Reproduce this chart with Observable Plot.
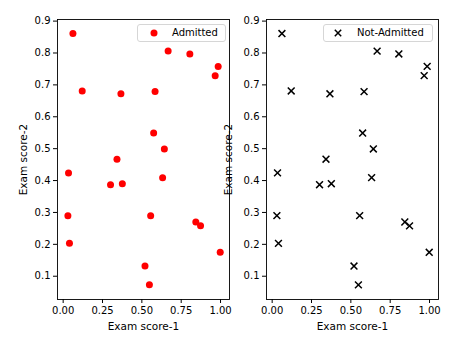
<!DOCTYPE html>
<html>
<head>
<meta charset="utf-8">
<script src="https://cdn.jsdelivr.net/npm/d3@7"></script>
<script src="https://cdn.jsdelivr.net/npm/@observablehq/plot@0.6"></script>
<style>
  html, body { margin: 0; padding: 0; background: white; }
  #fig { position: relative; width: 474px; height: 338px; overflow: hidden; font-family: "DejaVu Sans", sans-serif; }
  #fig > svg, #fig > .plotwrap { position: absolute; top: 0; }
  .legend { position: absolute; box-sizing: border-box; border: 1px solid #d6d6d6; border-radius: 3px; background: rgba(255,255,255,0.8); font-size: 10px; color: black; }
  .legend svg { position: absolute; }
  .legend span { position: absolute; white-space: nowrap; line-height: 12px; }
</style>
</head>
<body>
<div id="fig"></div>
<script>
// Data
const admittedScore1 = [0.062, 0.121, 0.367, 0.584, 0.667, 0.805, 0.985, 0.966, 0.575, 0.643, 0.342, 0.034, 0.301, 0.376, 0.632, 0.030, 0.556, 0.843, 0.873, 0.040, 0.998, 0.520, 0.548];
const admittedScore2 = [0.861, 0.681, 0.672, 0.679, 0.806, 0.797, 0.758, 0.729, 0.549, 0.499, 0.467, 0.424, 0.387, 0.390, 0.409, 0.290, 0.290, 0.270, 0.258, 0.203, 0.175, 0.132, 0.073];
const notAdmittedScore1 = [0.062, 0.121, 0.367, 0.584, 0.667, 0.805, 0.985, 0.966, 0.575, 0.643, 0.342, 0.034, 0.301, 0.376, 0.632, 0.030, 0.556, 0.843, 0.873, 0.040, 0.998, 0.520, 0.548];
const notAdmittedScore2 = [0.861, 0.681, 0.672, 0.679, 0.806, 0.797, 0.758, 0.729, 0.549, 0.499, 0.467, 0.424, 0.387, 0.390, 0.409, 0.290, 0.290, 0.270, 0.258, 0.203, 0.175, 0.132, 0.073];
const xTicks = [0, 0.25, 0.5, 0.75, 1.0];
const yTicks = [0.1, 0.2, 0.3, 0.4, 0.5, 0.6, 0.7, 0.8, 0.9];
const xLabel = "Exam score-1";
const yLabel = "Exam score-2";
const seriesNames = ["Admitted", "Not-Admitted"];

const admitted = admittedScore1.map((x, i) => ({x, y: admittedScore2[i]}));
const notAdmitted = notAdmittedScore1.map((x, i) => ({x, y: notAdmittedScore2[i]}));

function panel({data, dotOptions, width, marginLeft, marginRight, yLabelDx}) {
  return Plot.plot({
    width, height: 338,
    marginTop: 19, marginBottom: 39, marginLeft, marginRight,
    style: {fontFamily: "DejaVu Sans", fontSize: "10px", color: "black", background: "transparent", overflow: "visible"},
    x: {domain: [-0.036, 1.057]},
    y: {domain: [0.027, 0.905]},
    marks: [
      Plot.axisX({ticks: xTicks, tickFormat: d3.format(".2f"), tickSize: 4, tickPadding: 3, label: null, fontSize: 10}),
      Plot.axisY({ticks: yTicks, tickFormat: d3.format(".1f"), tickSize: 4, tickPadding: 3, label: null, fontSize: 10}),
      Plot.frame({stroke: "black", strokeWidth: 0.9}),
      Plot.dot(data, {x: "x", y: "y", ...dotOptions}),
      Plot.text([xLabel], {text: d => d, frameAnchor: "bottom", dy: 27, lineAnchor: "middle", textAnchor: "middle", fontSize: 10.5, fill: "black"}),
      Plot.text([yLabel], {text: d => d, frameAnchor: "left", dx: yLabelDx, rotate: -90, lineAnchor: "middle", textAnchor: "middle", fontSize: 10.5, fill: "black"})
    ]
  });
}

const fig = document.getElementById("fig");

const p1 = panel({
  data: admitted,
  dotOptions: {r: 3.5, fill: "red", stroke: "none"},
  width: 237, marginLeft: 57, marginRight: 8, yLabelDx: -34
});
p1.style.left = "0px";
fig.appendChild(p1);

const p2 = panel({
  data: notAdmitted,
  dotOptions: {r: 3.2, symbol: "times", stroke: "black", strokeWidth: 1.5},
  width: 274, marginLeft: 66, marginRight: 36, yLabelDx: -37.5
});
p2.style.left = "200px";
fig.appendChild(p2);

function legend({left, top, width, height, name, marker, markerX, textX}) {
  const box = document.createElement("div");
  box.className = "legend";
  Object.assign(box.style, {left: left + "px", top: top + "px", width: width + "px", height: height + "px"});
  const ns = "http://www.w3.org/2000/svg";
  const svg = document.createElementNS(ns, "svg");
  svg.setAttribute("width", 12); svg.setAttribute("height", 12);
  svg.style.left = (markerX - left - 6) + "px";
  svg.style.top = (height / 2 - 7) + "px";
  if (marker === "circle") {
    const c = document.createElementNS(ns, "circle");
    c.setAttribute("cx", 6); c.setAttribute("cy", 6); c.setAttribute("r", 3.5); c.setAttribute("fill", "red");
    svg.appendChild(c);
  } else {
    const p = document.createElementNS(ns, "path");
    p.setAttribute("d", "M2.8,2.8L9.2,9.2M9.2,2.8L2.8,9.2"); p.setAttribute("stroke", "black"); p.setAttribute("stroke-width", 1.5);
    svg.appendChild(p);
  }
  box.appendChild(svg);
  const s = document.createElement("span");
  s.textContent = name;
  s.style.left = (textX - left - 1) + "px";
  s.style.top = (height / 2 - 7) + "px";
  box.appendChild(s);
  fig.appendChild(box);
}

legend({left: 137, top: 24, width: 89, height: 18, name: seriesNames[0], marker: "circle", markerX: 152.5, textX: 172});
legend({left: 323, top: 24, width: 110, height: 18, name: seriesNames[1], marker: "times", markerX: 337, textX: 357});
</script>
</body>
</html>
